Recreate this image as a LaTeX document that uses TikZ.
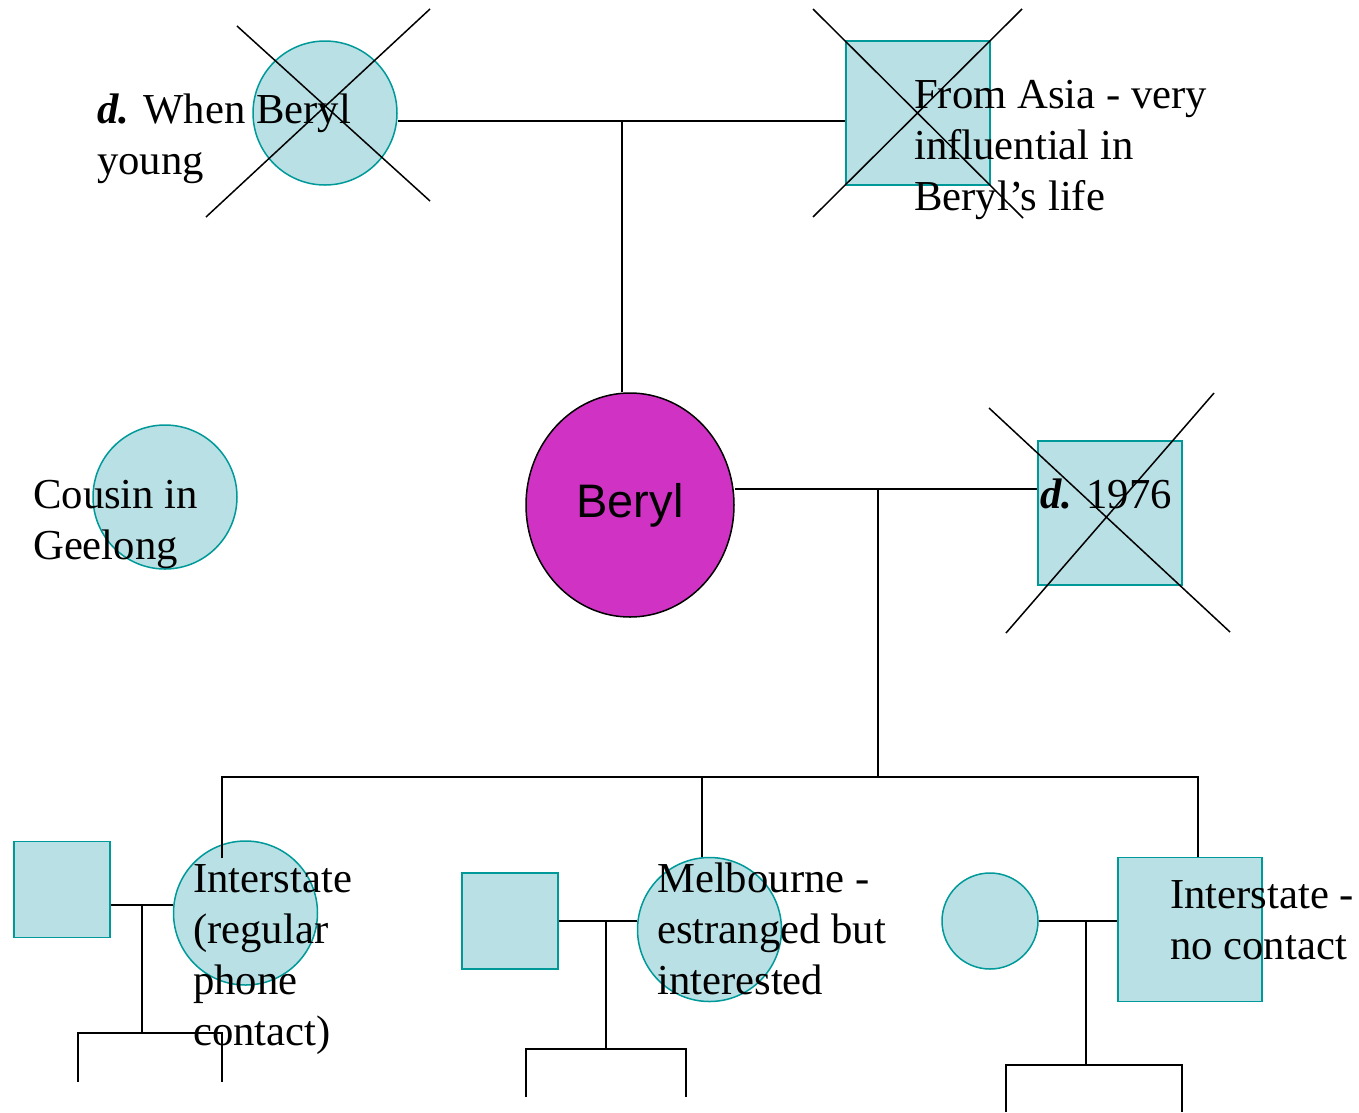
\documentclass[tikz,border=0pt]{standalone}
\usepackage{fontspec}
\setmainfont{Liberation Serif}
\newfontfamily\berylfont{Liberation Sans}
\usetikzlibrary{shapes.geometric, calc}
\definecolor{pedfill}{RGB}{185, 224, 228}
\definecolor{pedline}{RGB}{0, 153, 153}
\definecolor{berylpink}{RGB}{208, 50, 196}

\begin{document}
\begin{tikzpicture}[x=1pt, y=-1pt,
  female/.style={circle, draw=pedline, fill=pedfill, line width=1.5pt, inner sep=0pt, minimum size=#1},
  male/.style={rectangle, draw=pedline, fill=pedfill, line width=1.5pt, inner sep=0pt, minimum size=#1},
  note/.style={anchor=base west, align=left, inner sep=0pt, font=\fontsize{42.7}{51.2}\selectfont},
  tie/.style={line width=1.5pt}]
  \useasboundingbox (0,0) rectangle (1359,1112);

  % grandparents
  \node[female=144pt] (gma) at (325,113) {};
  \node[male=144pt] (gpa) at (918,113) {};

  % Beryl, husband, cousin
  \node[ellipse, draw, fill=berylpink, line width=1.5pt, minimum width=208pt, minimum height=224pt, inner sep=0pt,
        font=\berylfont\fontsize{47}{56}\selectfont] (beryl) at (630,505) {\raisebox{3pt}{Beryl}};
  \node[male=144pt] (hus) at (1110,513) {};
  \node[female=144pt] (cousin) at (165,497) {};

  % children and their partners
  \node[male=96pt] (sil1) at (62,889.5) {};
  \node[female=144pt] (dau1) at (245.5,913) {};
  \node[male=96pt] (sil2) at (510,921) {};
  \node[female=144pt] (dau2) at (709.5,929.5) {};
  \node[female=96pt] (dil3) at (990,921) {};
  \node[male=144pt] (son3) at (1190,929.5) {};

  % marriage and descent lines
  \coordinate (gmarr) at (622,121);
  \coordinate (bmarr) at (878,489);
  \coordinate (sibs) at (878,777);
  \coordinate (sibl) at (222,777);
  \coordinate (sibr) at (1198,777);
  \coordinate (k1) at (222,858);
  \coordinate (k2) at (702,857);
  \draw[tie] ([yshift=-8pt]gma.east) -- (gmarr) -- (gmarr -| gpa.west);
  \draw[tie] (gmarr) -- (gmarr |- beryl.north);
  \draw[tie] (beryl.east |- bmarr) -- (hus.west |- bmarr);
  \draw[tie] (bmarr) -- (sibs);
  \draw[tie] (k1) -- (sibl) -- (sibr) -- (son3.north -| sibr);
  \draw[tie] (k2 |- sibs) -- (k2);

  \coordinate (m1) at (142,905);
  \coordinate (g1) at (142,1033);
  \coordinate (g1l) at (78,1082);
  \coordinate (g1r) at (222,1082);
  \draw[tie] (sil1.east |- m1) -- (dau1.west |- m1);
  \draw[tie] (m1) -- (g1);
  \draw[tie] (g1l) |- (g1) -| (g1r);

  \coordinate (m2) at (606,921);
  \coordinate (g2) at (606,1049);
  \coordinate (g2l) at (526,1097);
  \coordinate (g2r) at (686,1097);
  \draw[tie] (sil2.east |- m2) -- (dau2.west |- m2);
  \draw[tie] (m2) -- (g2);
  \draw[tie] (g2l) |- (g2) -| (g2r);

  \coordinate (m3) at (1086,921);
  \coordinate (g3) at (1086,1065);
  \coordinate (g3l) at (1006,1112);
  \coordinate (g3r) at (1182,1112);
  \draw[tie] (dil3.east |- m3) -- (son3.west |- m3);
  \draw[tie] (m3) -- (g3);
  \draw[tie] (g3l) |- (g3) -| (g3r);

  % deceased crosses
  \draw[tie] (237,26) -- (430,201) (206,217) -- (430,9);
  \draw[tie] (813,9) -- (1023,218) (813,217) -- (1022,9);
  \draw[tie] (989,408) -- (1230,632) (1006,633) -- (1214,393);

  % notes (anchored on the baseline of their last line)
  \node[note] (gmanote) at (97,174.2) {\textbf{\textit{d.}} When Beryl\\young};
  \node[note] (gpanote) at (914,210.4) {From Asia - very\\influential in\\Beryl’s life};
  \node[note] (husnote) at (1040,508) {\textbf{\textit{d.}} 1976};
  \node[note] (cousinnote) at (33,559.2) {Cousin in\\Geelong};
  \node[note] (dau1note) at (193,1045.6) {Interstate\\(regular\\phone\\contact)};
  \node[note] (dau2note) at (657,994.4) {Melbourne -\\estranged but\\interested};
  \node[note] (son3note) at (1170,959.2) {Interstate -\\no contact};
\end{tikzpicture}
\end{document}
